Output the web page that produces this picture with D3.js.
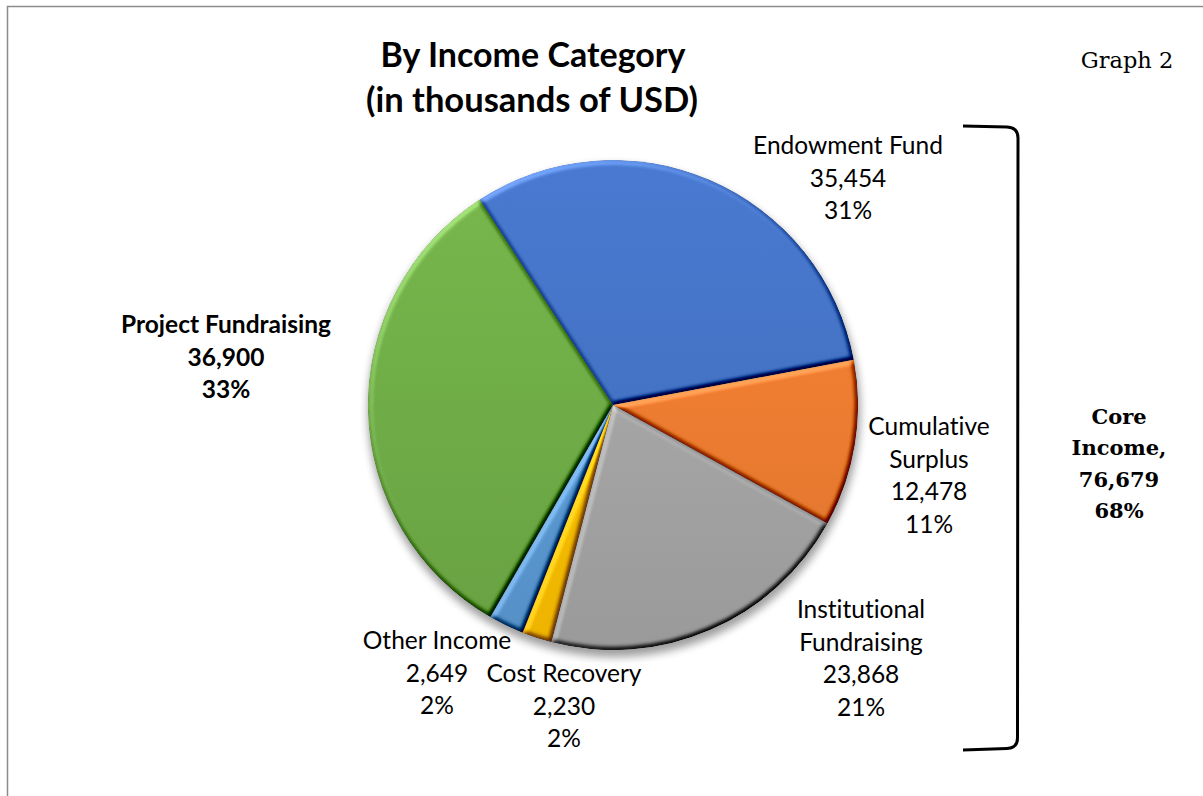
<!DOCTYPE html>
<html>
<head>
<meta charset="utf-8">
<script src="https://cdn.jsdelivr.net/npm/d3@7"></script>
<style>
  html, body { margin: 0; padding: 0; background: #fff; overflow: hidden; }
  svg { display: block; }
  text { font-variant-ligatures: none; font-feature-settings: "liga" 0, "clig" 0; }
</style>
</head>
<body>
<svg id="chart" width="1203" height="796"></svg>
<script>
// Income by category, in thousands of USD
const categories = ["Endowment Fund", "Cumulative Surplus", "Institutional Fundraising",
                    "Cost Recovery", "Other Income", "Project Fundraising"];
const values = [35454, 12478, 23868, 2230, 2649, 36900];
const percentLabels = ["31%", "11%", "21%", "2%", "2%", "33%"];
// The first five categories make up core income
const coreCategories = ["Endowment Fund", "Cumulative Surplus", "Institutional Fundraising",
                        "Cost Recovery", "Other Income"];
const coreTitleLines = ["Core", "Income,"];

// Styling and label placement
const sliceColors = ["#4472C4", "#ED7D31", "#A5A5A5", "#FFC000", "#5B9BD5", "#70AD47"];
const labelLayout = {
  "Endowment Fund":            { x: 848, y: 154, lines: ["Endowment Fund"] },
  "Cumulative Surplus":        { x: 929, y: 435, lines: ["Cumulative", "Surplus"] },
  "Institutional Fundraising": { x: 861, y: 618, lines: ["Institutional", "Fundraising"] },
  "Cost Recovery":             { x: 564, y: 682, lines: ["Cost Recovery"] },
  "Other Income":              { x: 437, y: 649, lines: ["Other Income"] },
  "Project Fundraising":       { x: 226, y: 333, lines: ["Project Fundraising"], bold: true }
};

const W = 1203, H = 796;
const cx = 613, cy = 405, R = 245;
const sans = "Lato, 'Open Sans', sans-serif";
const svg = d3.select("#chart");
const defs = svg.append("defs");

svg.append("rect").attr("width", W).attr("height", H).attr("fill", "#fff");

// Frame of the chart area (top and left edges visible)
svg.append("rect")
  .attr("x", 7.5).attr("y", 6.5).attr("width", 1400).attr("height", 1000)
  .attr("fill", "none").attr("stroke", "#8c8c8c").attr("stroke-width", 1.5);

// Titles
svg.append("text")
  .attr("x", 533).attr("y", 67).attr("text-anchor", "middle")
  .attr("font-family", sans).attr("font-weight", 700)
  .attr("font-size", 34).attr("fill", "#000")
  .text("By Income Category");
svg.append("text")
  .attr("x", 532).attr("y", 112).attr("text-anchor", "middle")
  .attr("font-family", sans).attr("font-weight", 700)
  .attr("font-size", 34.5).attr("fill", "#000")
  .text("(in thousands of USD)");
svg.append("text")
  .attr("x", 1127).attr("y", 68).attr("text-anchor", "middle")
  .attr("font-family", "'DejaVu Serif', serif")
  .attr("font-size", 22.5).attr("fill", "#000")
  .text("Graph 2");

// Filters: soft drop shadow and bevelled slice edges
const shadow = defs.append("filter").attr("id", "pieShadow")
  .attr("x", "-10%").attr("y", "-10%").attr("width", "120%").attr("height", "120%");
shadow.append("feGaussianBlur").attr("stdDeviation", 4.5);

const bevel = defs.append("filter").attr("id", "bevel")
  .attr("x", "-5%").attr("y", "-5%").attr("width", "110%").attr("height", "110%")
  .attr("color-interpolation-filters", "sRGB");
bevel.append("feGaussianBlur").attr("in", "SourceAlpha").attr("stdDeviation", 2.8).attr("result", "blur");
const light = bevel.append("feDiffuseLighting")
  .attr("in", "blur").attr("surfaceScale", 4).attr("diffuseConstant", 1)
  .attr("lighting-color", "#fff").attr("result", "light");
light.append("feDistantLight").attr("azimuth", 235).attr("elevation", 50);
// flat surface receives sin(50deg) ~ 0.766 of the light; keep it neutral there
bevel.append("feComposite").attr("in", "SourceGraphic").attr("in2", "light")
  .attr("operator", "arithmetic")
  .attr("k1", 0).attr("k2", 1).attr("k3", 0.75).attr("k4", -0.75 * 0.766)
  .attr("result", "lit");
bevel.append("feComposite").attr("in", "lit").attr("in2", "SourceAlpha").attr("operator", "in");

// Pie
const data = categories.map((c, i) => ({ category: c, value: values[i], pct: percentLabels[i], color: sliceColors[i] }));
const start = -33 * Math.PI / 180;
const pie = d3.pie().sort(null).value(d => d.value).startAngle(start).endAngle(start + 2 * Math.PI);
const arc = d3.arc().innerRadius(0).outerRadius(R);
const arcs = pie(data);

const g = svg.append("g").attr("transform", `translate(${cx},${cy})`);

g.append("path")
  .attr("d", d3.arc().innerRadius(0).outerRadius(R + 1)({ startAngle: 0, endAngle: 2 * Math.PI }))
  .attr("transform", "translate(1,6)")
  .attr("fill", "#000").attr("opacity", 0.38)
  .attr("filter", "url(#pieShadow)");

arcs.forEach((a, i) => {
  const base = d3.color(a.data.color);
  const grad = defs.append("linearGradient").attr("id", "grad" + i)
    .attr("gradientUnits", "userSpaceOnUse")
    .attr("x1", 0).attr("y1", -R).attr("x2", 0).attr("y2", R);
  grad.append("stop").attr("offset", "0%").attr("stop-color", base.brighter(0.18).formatHex());
  grad.append("stop").attr("offset", "100%").attr("stop-color", base.darker(0.2).formatHex());
});

g.selectAll("path.slice")
  .data(arcs)
  .join("path")
  .attr("class", "slice")
  .attr("d", arc)
  .attr("fill", (d, i) => `url(#grad${i})`)
  .attr("filter", "url(#bevel)");

// Data labels
const fmt = d3.format(",");
const lineStep = 32.7;
arcs.forEach(a => {
  const lay = labelLayout[a.data.category];
  const lines = [...lay.lines, fmt(a.data.value), a.data.pct];
  const t = svg.append("text")
    .attr("text-anchor", "middle")
    .attr("font-family", sans)
    .attr("font-weight", lay.bold ? 700 : 400)
    .attr("font-size", 24.5)
    .attr("fill", "#000");
  lines.forEach((s, k) => {
    t.append("tspan").attr("x", lay.x).attr("y", lay.y + k * lineStep).text(s);
  });
});

// Bracket around the core income slices
svg.append("path")
  .attr("d", "M963,126 L1007,127 Q1018,127.5 1018,138 L1017.5,738 Q1017.5,748 1007,748.5 L963,750")
  .attr("fill", "none").attr("stroke", "#000").attr("stroke-width", 3);

const coreTotal = d3.sum(data.filter(d => coreCategories.includes(d.category)), d => d.value);
const grandTotal = d3.sum(values);
const coreLines = [...coreTitleLines, fmt(coreTotal), Math.round(coreTotal / grandTotal * 100) + "%"];
const ct = svg.append("text")
  .attr("text-anchor", "middle")
  .attr("font-family", "'DejaVu Serif', serif").attr("font-weight", 700)
  .attr("font-size", 21).attr("fill", "#000");
coreLines.forEach((s, k) => {
  ct.append("tspan").attr("x", 1119).attr("y", 424 + k * 31.3).text(s);
});
</script>
</body>
</html>
